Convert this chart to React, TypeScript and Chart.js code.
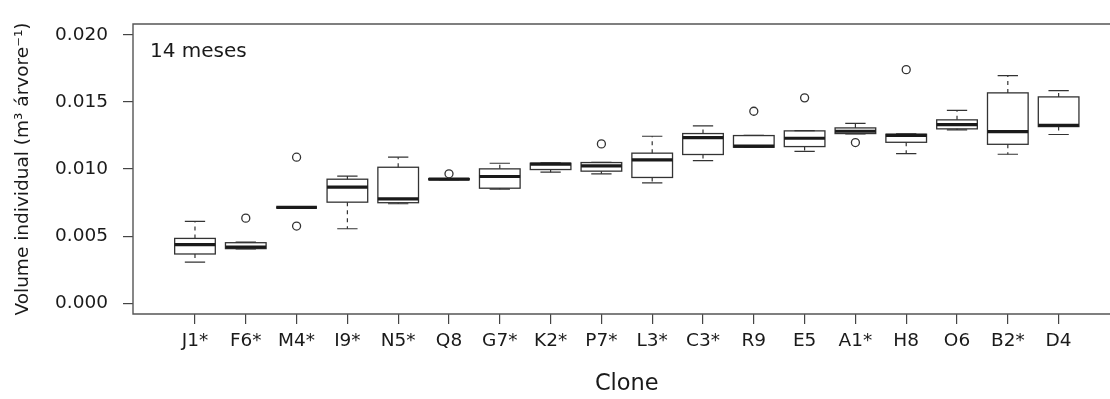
import React, { useEffect, useRef } from "react";
import { Chart, registerables } from "chart.js";

Chart.register(...registerables);

const clones = ["J1*", "F6*", "M4*", "I9*", "N5*", "Q8", "G7*", "K2*", "P7*", "L3*", "C3*", "R9", "E5", "A1*", "H8", "O6", "B2*", "D4"];
const whiskerLow = [0.00307, 0.00404, 0.00714, 0.00555, 0.00741, 0.0092, 0.0085, 0.00976, 0.00964, 0.00897, 0.01063, 0.0116, 0.01132, 0.01262, 0.01115, 0.01291, 0.0111, 0.01257];
const q1 = [0.00367, 0.00407, 0.00714, 0.00753, 0.00749, 0.0092, 0.00857, 0.00996, 0.00984, 0.00937, 0.01108, 0.01162, 0.01167, 0.01264, 0.01199, 0.01299, 0.01184, 0.01316];
const medians = [0.00436, 0.00419, 0.00714, 0.00865, 0.00778, 0.00924, 0.00944, 0.01036, 0.01024, 0.01068, 0.01234, 0.0117, 0.01229, 0.01281, 0.01251, 0.01331, 0.01279, 0.01326];
const q3 = [0.00483, 0.00451, 0.00714, 0.00924, 0.01013, 0.00928, 0.01001, 0.01043, 0.01048, 0.01118, 0.01264, 0.01249, 0.01284, 0.01306, 0.01259, 0.01366, 0.01567, 0.01537];
const whiskerHigh = [0.0061, 0.00455, 0.00714, 0.00947, 0.01088, 0.00928, 0.01043, 0.01045, 0.0105, 0.01244, 0.01321, 0.0125, 0.01286, 0.0134, 0.01261, 0.01437, 0.01695, 0.01584];
const outlierClone = ["F6*", "M4*", "M4*", "Q8", "P7*", "R9", "E5", "A1*", "H8"];
const outlierValue = [0.00634, 0.01088, 0.00575, 0.00964, 0.01187, 0.0143, 0.0153, 0.01197, 0.0174];
const yTicks = [0, 0.005, 0.01, 0.015, 0.02];

const FONT = "'DejaVu Sans', sans-serif";
const INK = "#333";

const boxPlugin = {
  id: "boxes",
  beforeDatasetsDraw(chart: any) {
    const { ctx, scales } = chart;
    const xs = scales.x;
    const ys = scales.y;
    const unit = xs.getPixelForValue(1) - xs.getPixelForValue(0);
    const half = 0.4 * unit;
    const cap = 0.2 * unit;
    ctx.save();
    ctx.strokeStyle = INK;
    clones.forEach((_, i) => {
      const cx = xs.getPixelForValue(i + 1);
      const pLo = ys.getPixelForValue(whiskerLow[i]);
      const pQ1 = ys.getPixelForValue(q1[i]);
      const pMed = ys.getPixelForValue(medians[i]);
      const pQ3 = ys.getPixelForValue(q3[i]);
      const pHi = ys.getPixelForValue(whiskerHigh[i]);
      ctx.lineWidth = 1.2;
      ctx.setLineDash([4, 4]);
      ctx.beginPath();
      ctx.moveTo(cx, pQ3);
      ctx.lineTo(cx, pHi);
      ctx.moveTo(cx, pQ1);
      ctx.lineTo(cx, pLo);
      ctx.stroke();
      ctx.setLineDash([]);
      ctx.beginPath();
      ctx.moveTo(cx - cap, pHi);
      ctx.lineTo(cx + cap, pHi);
      ctx.moveTo(cx - cap, pLo);
      ctx.lineTo(cx + cap, pLo);
      ctx.stroke();
      ctx.lineWidth = 1.3;
      ctx.strokeRect(cx - half, pQ3, 2 * half, pQ1 - pQ3);
      ctx.lineWidth = 3.2;
      ctx.strokeStyle = "#1a1a1a";
      ctx.beginPath();
      ctx.moveTo(cx - half, pMed);
      ctx.lineTo(cx + half, pMed);
      ctx.stroke();
      ctx.strokeStyle = INK;
    });
    ctx.restore();
  },
  afterDraw(chart: any) {
    const { ctx, chartArea } = chart;
    ctx.save();
    ctx.strokeStyle = "#555";
    ctx.lineWidth = 1.4;
    ctx.beginPath();
    ctx.moveTo(chartArea.right + 20, chartArea.top);
    ctx.lineTo(chartArea.left, chartArea.top);
    ctx.lineTo(chartArea.left, chartArea.bottom);
    ctx.lineTo(chartArea.right + 20, chartArea.bottom);
    ctx.stroke();
    ctx.fillStyle = "#1a1a1a";
    ctx.font = `20px ${FONT}`;
    ctx.textBaseline = "alphabetic";
    ctx.textAlign = "left";
    ctx.fillText("14 meses", chartArea.left + 17, chartArea.top + 32.5);
    ctx.restore();
  },
};

export default function App() {
  const ref = useRef<HTMLCanvasElement | null>(null);
  useEffect(() => {
    if (!ref.current) return;
    const chart = new Chart(ref.current, {
      type: "scatter",
      data: {
        datasets: [
          {
            label: "outliers",
            data: outlierClone.map((c, i) => ({ x: clones.indexOf(c) + 1, y: outlierValue[i] })),
            pointRadius: 4,
            pointHoverRadius: 4,
            pointBorderWidth: 1.3,
            borderColor: INK,
            backgroundColor: "rgba(0,0,0,0)",
          },
        ],
      },
      options: {
        animation: false,
        responsive: false,
        events: [],
        layout: { padding: { left: 0, top: 24, right: 9.4, bottom: 0 } },
        plugins: { legend: { display: false }, tooltip: { enabled: false }, title: { display: false } },
        scales: {
          x: {
            type: "linear",
            min: -0.22,
            max: 19.22,
            afterBuildTicks: (axis: any) => {
              axis.ticks = clones.map((_, i) => ({ value: i + 1 }));
            },
            afterFit: (axis: any) => {
              axis.height = 85;
              axis.paddingLeft = 0;
              axis.paddingRight = 0;
            },
            grid: { display: true, drawOnChartArea: false, drawTicks: true, tickLength: 10, color: "#444", lineWidth: 1.2 },
            border: { display: false },
            ticks: {
              autoSkip: false,
              maxRotation: 0,
              minRotation: 0,
              padding: 6,
              color: "#1a1a1a",
              font: { family: FONT, size: 18.5 },
              callback: (v: any) => clones[Math.round(Number(v)) - 1] ?? "",
            },
            title: {
              display: true,
              text: "Clone",
              color: "#1a1a1a",
              font: { family: FONT, size: 22.5 },
              padding: { top: 0, bottom: 1 },
            },
          },
          y: {
            type: "linear",
            min: -0.0008,
            max: 0.0208,
            afterBuildTicks: (axis: any) => {
              axis.ticks = yTicks.map((v) => ({ value: v }));
            },
            afterFit: (axis: any) => {
              axis.width = 133;
              axis.paddingTop = 0;
              axis.paddingBottom = 0;
            },
            grid: { display: true, drawOnChartArea: false, drawTicks: true, tickLength: 10, color: "#444", lineWidth: 1.2 },
            border: { display: false },
            ticks: {
              padding: 15,
              color: "#1a1a1a",
              font: { family: FONT, size: 18.5 },
              callback: (v: any) => Number(v).toFixed(3),
            },
            title: {
              display: true,
              text: "Volume individual (m³ árvore⁻¹)",
              color: "#1a1a1a",
              font: { family: FONT, size: 18.5 },
              padding: { top: 12, bottom: 0 },
            },
          },
        },
      },
      plugins: [boxPlugin],
    });
    return () => chart.destroy();
  }, []);
  return (
    <div style={{ position: "fixed", left: 0, top: 0, width: 1110, height: 399, overflow: "hidden", background: "#fff" }}>
      <canvas ref={ref} width={1130} height={399} style={{ display: "block" }} />
    </div>
  );
}
